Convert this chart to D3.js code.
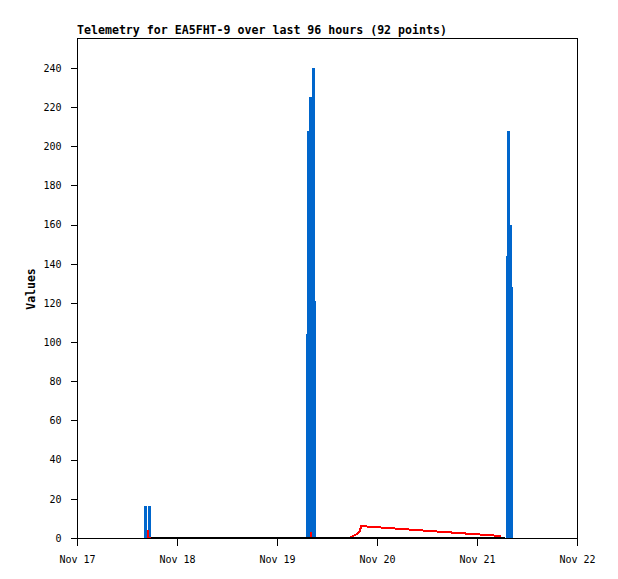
<!DOCTYPE html>
<html>
<head>
<meta charset="utf-8">
<script src="https://cdn.jsdelivr.net/npm/d3@7"></script>
<style>
  body { margin: 0; background: #fff; }
  text { font-family: "DejaVu Sans Mono", monospace; }
</style>
</head>
<body>
<div id="chart"></div>
<script>
(function() {
  var margin = { top: 38, left: 77, right: 41, bottom: 41 },
    width = 618 - margin.left - margin.right,
    height = 579 - margin.top - margin.bottom;

  // hours after Nov 17 00:00 UTC
  var blueHours = [16.39, 17.45,
    55.32, 55.56, 55.92, 56.16, 56.28, 56.64, 56.88, 57.0,
    103.32, 103.56, 104.04, 104.28];
  var blueValues = [16.3, 16.3,
    104, 208, 225, 27, 133, 240, 121, 49,
    144, 208, 160, 128];

  var redHours = [16.96, 16.98, 56.11, 56.13, 56.15, 65.3, 67.2, 68.0, 68.1, 101.8];
  var redValues = [4, 0, 0, 3, 0, 0, 2.0, 3.8, 6.1, 1.0];

  var blackHours = [17.76, 40, 60, 80, 102.7];
  var blackValues = [0, 0, 0, 0, 0];

  var yTicks = [0, 20, 40, 60, 80, 100, 120, 140, 160, 180, 200, 220, 240];
  var title = "Telemetry for EA5FHT-9 over last 96 hours (92 points)";

  var start = Date.UTC(2023, 10, 17);
  function toDate(h) { return new Date(start + h * 3600 * 1000) }
  function series(hours, values) {
    return hours.map(function(h, i) { return { t: toDate(h), v: values[i] } })
  }

  var svg = d3.select("#chart")
    .append("svg")
    .attr("width", 618)
    .attr("height", 579);

  var x = d3.scaleUtc()
    .domain([toDate(0), toDate(120)])
    .range([margin.left, margin.left + width]);

  var y = d3.scaleLinear()
    .domain([0, 255.3])
    .range([margin.top + height, margin.top]);

  var line = d3.line()
    .x(function(d) { return x(d.t) })
    .y(function(d) { return y(d.v) });

  // blue impulses
  svg.selectAll(".impulse")
    .data(series(blueHours, blueValues))
    .enter().append("rect")
    .attr("class", "impulse")
    .attr("x", function(d) { return Math.round(x(d.t) - 1.5) })
    .attr("y", function(d) { return Math.round(y(d.v)) })
    .attr("width", 3)
    .attr("height", function(d) { return Math.round(y(0)) - Math.round(y(d.v)) + 1 })
    .attr("fill", "#0066cc")
    .attr("shape-rendering", "crispEdges");

  svg.append("path")
    .datum(series(redHours, redValues))
    .attr("d", line)
    .attr("fill", "none")
    .attr("stroke", "#ff0000")
    .attr("stroke-width", 2)
    .attr("shape-rendering", "crispEdges");

  svg.append("path")
    .datum(series(blackHours, blackValues))
    .attr("d", line)
    .attr("fill", "none")
    .attr("stroke", "#000")
    .attr("stroke-width", 2)
    .attr("shape-rendering", "crispEdges");

  // frame
  svg.append("rect")
    .attr("x", margin.left + 0.5)
    .attr("y", margin.top + 0.5)
    .attr("width", width)
    .attr("height", height)
    .attr("fill", "none")
    .attr("stroke", "#000")
    .attr("shape-rendering", "crispEdges");

  var xAxis = svg.append("g")
    .attr("transform", "translate(0," + (margin.top + height + 0.5) + ")")
    .call(d3.axisBottom(x)
      .ticks(d3.utcDay.every(1))
      .tickFormat(d3.utcFormat("%b %d"))
      .tickSize(7)
      .tickPadding(10));

  var yAxis = svg.append("g")
    .attr("transform", "translate(" + (margin.left + 0.5) + ",0)")
    .call(d3.axisLeft(y)
      .tickValues(yTicks)
      .tickSize(7)
      .tickPadding(9));

  [xAxis, yAxis].forEach(function(g) {
    g.select(".domain").remove();
    g.selectAll("line").attr("shape-rendering", "crispEdges").attr("stroke", "#000");
    g.selectAll("text")
      .attr("fill", "#000")
      .style("font-size", "10px")
      .style("font-family", "'DejaVu Sans Mono', monospace");
  });

  svg.append("text")
    .attr("x", 77)
    .attr("y", 34)
    .style("font-size", "11.6px")
    .style("font-weight", "bold")
    .text(title);

  svg.append("text")
    .attr("transform", "translate(35,289) rotate(-90)")
    .attr("text-anchor", "middle")
    .style("font-size", "11.5px")
    .style("font-weight", "bold")
    .text("Values");
})();
</script>
</body>
</html>
